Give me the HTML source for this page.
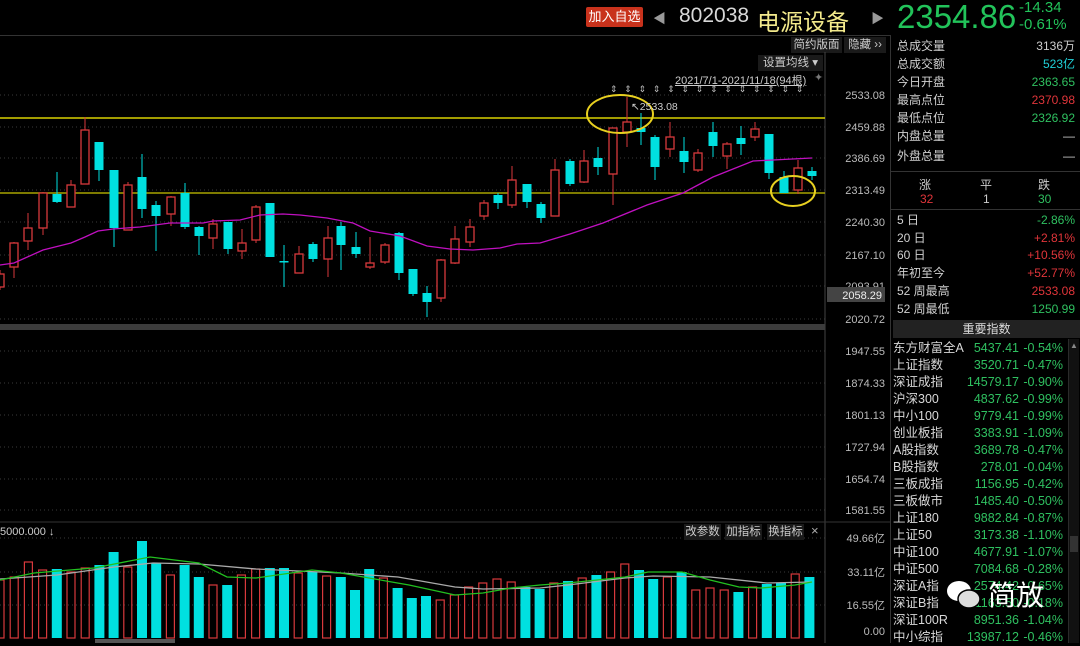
<!DOCTYPE html>
<html><head><meta charset="utf-8"><style>
*{margin:0;padding:0;box-sizing:border-box}
body{width:1080px;height:643px;background:#000;overflow:hidden;position:relative;font-family:"Liberation Sans","Noto Sans CJK SC",sans-serif;color:#ccc;font-size:12px}
.a{position:absolute;white-space:nowrap}
.r{text-align:right}
.row{position:absolute;left:897px;width:178px;height:17px;line-height:17px}
.row .l{position:absolute;left:0;color:#d0d0d0}
.row .v{position:absolute;right:0}
.ix{position:absolute;left:893px;width:170px;height:17px;line-height:17px;font-size:12.5px}
.ix .l{position:absolute;left:0;color:#d8d8d8}
.ix .v{position:absolute;right:44px;color:#2fc060}
.ix .p{position:absolute;right:0;color:#2fc060}
.g{color:#2fc060}.rd{color:#e0353a}.cy{color:#20d0d8}
.btn{position:absolute;background:#1a1a1a;color:#ccc;font-size:11.5px;line-height:16px;text-align:center}
</style></head><body>
<!-- header -->
<div class="a" style="left:586px;top:7px;width:57px;height:20px;background:#c8321c;color:#fff;font-size:13px;line-height:20px;text-align:center;border-radius:2px">加入自选</div>
<div class="a" style="left:653px;top:8px;color:#999;font-size:13px">◀</div>
<div class="a" style="left:679px;top:4px;color:#d8d8d8;font-size:21px">802038</div>
<div class="a" style="left:757px;top:3px;color:#f3ea8c;font-size:23px">电源设备</div>
<div class="a" style="left:871px;top:8px;color:#999;font-size:13px">▶</div>
<div class="a" style="left:897px;top:-2px;color:#22c35a;font-size:33px">2354.86</div>
<div class="a" style="left:1019px;top:-1px;color:#22c35a;font-size:15px">-14.34</div>
<div class="a" style="left:1019px;top:16px;color:#22c35a;font-size:15px">-0.61%</div>
<div class="a" style="left:0;top:35px;width:890px;height:1px;background:#333"></div>
<div class="btn" style="left:791px;top:37px;width:51px">简约版面</div>
<div class="btn" style="left:844px;top:37px;width:42px">隐藏 ››</div>
<div class="btn" style="left:758px;top:55px;width:65px">设置均线 ▾</div>
<div class="a" style="left:675px;top:72px;font-size:11px;color:#ccc;text-decoration:underline">2021/7/1-2021/11/18(94根)</div>
<div class="a" style="left:814px;top:71px;font-size:11px;color:#777">✦</div>
<div class="a" style="left:890px;top:35px;width:1px;height:608px;background:#333"></div>

<svg class="a" style="left:0;top:0" width="890" height="643" id="ch">
<g stroke="#3a3a3a" stroke-dasharray="1,3">
<line x1="0" x2="825" y1="95" y2="95"/><line x1="0" x2="825" y1="127" y2="127"/><line x1="0" x2="825" y1="158" y2="158"/><line x1="0" x2="825" y1="190" y2="190"/><line x1="0" x2="825" y1="222" y2="222"/><line x1="0" x2="825" y1="255" y2="255"/><line x1="0" x2="825" y1="286" y2="286"/><line x1="0" x2="825" y1="319" y2="319"/><line x1="0" x2="825" y1="351" y2="351"/><line x1="0" x2="825" y1="383" y2="383"/><line x1="0" x2="825" y1="415" y2="415"/><line x1="0" x2="825" y1="447" y2="447"/><line x1="0" x2="825" y1="479" y2="479"/><line x1="0" x2="825" y1="510" y2="510"/>
<line x1="0" x2="825" y1="538" y2="538"/><line x1="0" x2="825" y1="572" y2="572"/><line x1="0" x2="825" y1="605" y2="605"/>
</g>
<line x1="825" x2="825" y1="52" y2="643" stroke="#444"/>
<line x1="0" x2="890" y1="522" y2="522" stroke="#333"/>
<rect x="0" y="324" width="825" height="6" fill="#3c3c3c"/>
<line x1="0" x2="825" y1="118" y2="118" stroke="#d8d000" stroke-width="1.5"/>
<line x1="0" x2="825" y1="193" y2="193" stroke="#a8a400" stroke-width="1.5"/>
<g id="cand"></g>
<polyline fill="none" stroke="#c010c0" stroke-width="1.3" points="0,265 14,263 43,250 71,243 85,237 98,231 113,229 140,227 170,223 203,223 213,221 240,220 260,215 283,214 300,215 327,218 353,223 370,231 400,236 427,246 450,249 473,250 500,248 517,244 540,243 570,234 603,223 647,205 683,193 713,177 753,161 773,160 812,158"/>
<ellipse cx="620" cy="114" rx="33" ry="19" fill="none" stroke="#e8d020" stroke-width="2"/>
<ellipse cx="793" cy="191" rx="22" ry="15" fill="none" stroke="#e8d020" stroke-width="2"/>
<text x="631" y="110" fill="#ccc" font-size="10.5" font-family="Liberation Sans">↖2533.08</text>
<g id="mk" fill="#bbb" font-size="9" font-family="Liberation Sans"></g>
<g id="vol"></g>
<polyline fill="none" stroke="#aaa" stroke-width="1.3" points="0,579 57,575 114,567 153,563 199,564 256,569 341,573 398,577 455,587 483,589 540,588 568,585 625,578 653,576 710,577 767,583 812,582"/>
<polyline fill="none" stroke="#22c020" stroke-width="1.3" points="0,580 34,573 94,568 150,557 199,563 227,577 256,578 312,570 341,573 369,578 409,585 455,595 483,593 511,588 540,585 568,583 597,580 625,577 648,572 682,572 710,580 739,587 761,588 795,585 812,582"/>
<rect x="95" y="639" width="80" height="4" fill="#555"/>
<g fill="#bbb" font-size="11" font-family="Liberation Sans" text-anchor="end">
<text x="885" y="99">2533.08</text><text x="885" y="131">2459.88</text><text x="885" y="162">2386.69</text><text x="885" y="194">2313.49</text><text x="885" y="226">2240.30</text><text x="885" y="259">2167.10</text><text x="885" y="290">2093.91</text><text x="885" y="323">2020.72</text><text x="885" y="355">1947.55</text><text x="885" y="387">1874.33</text><text x="885" y="419">1801.13</text><text x="885" y="451">1727.94</text><text x="885" y="483">1654.74</text><text x="885" y="514">1581.55</text>
<text x="885" y="542">49.66亿</text><text x="885" y="576">33.11亿</text><text x="885" y="609">16.55亿</text><text x="885" y="635">0.00</text>
</g>
<rect x="827" y="287" width="58" height="15" fill="#444"/>
<text x="882" y="299" fill="#eee" font-size="11" text-anchor="end" font-family="Liberation Sans">2058.29</text>
<text x="0" y="535" fill="#ccc" font-size="11" font-family="Liberation Sans">5000.000 ↓</text>
</svg>
<div class="btn" style="left:684px;top:524px;width:37px">改参数</div>
<div class="btn" style="left:725px;top:524px;width:37px">加指标</div>
<div class="btn" style="left:767px;top:524px;width:37px">换指标</div>
<div class="a" style="left:811px;top:523px;color:#aaa;font-size:13px">×</div>

<!-- right panel -->
<div class="row" style="top:38px"><span class="l">总成交量</span><span class="v" style="color:#ccc">3136万</span></div>
<div class="row" style="top:56px"><span class="l">总成交额</span><span class="v cy">523亿</span></div>
<div class="row" style="top:74px"><span class="l">今日开盘</span><span class="v g">2363.65</span></div>
<div class="row" style="top:92px"><span class="l">最高点位</span><span class="v rd">2370.98</span></div>
<div class="row" style="top:110px"><span class="l">最低点位</span><span class="v g">2326.92</span></div>
<div class="row" style="top:128px"><span class="l">内盘总量</span><span class="v">—</span></div>
<div class="row" style="top:148px"><span class="l">外盘总量</span><span class="v">—</span></div>
<div class="a" style="left:891px;top:171px;width:189px;height:1px;background:#333"></div>
<div class="a" style="left:919px;top:176px;color:#ccc">涨</div><div class="a" style="left:980px;top:176px;color:#ccc">平</div><div class="a" style="left:1038px;top:176px;color:#ccc">跌</div>
<div class="a rd" style="left:920px;top:192px">32</div><div class="a" style="left:983px;top:192px">1</div><div class="a g" style="left:1038px;top:192px">30</div>
<div class="a" style="left:891px;top:209px;width:189px;height:1px;background:#333"></div>
<div class="row" style="top:212px"><span class="l">5 日</span><span class="v g">-2.86%</span></div>
<div class="row" style="top:230px"><span class="l">20 日</span><span class="v rd">+2.81%</span></div>
<div class="row" style="top:247px"><span class="l">60 日</span><span class="v rd">+10.56%</span></div>
<div class="row" style="top:265px"><span class="l">年初至今</span><span class="v rd">+52.77%</span></div>
<div class="row" style="top:283px"><span class="l">52 周最高</span><span class="v rd">2533.08</span></div>
<div class="row" style="top:301px"><span class="l">52 周最低</span><span class="v g">1250.99</span></div>
<div class="a" style="left:893px;top:320px;width:187px;height:18px;background:#222;color:#ddd;text-align:center;line-height:18px">重要指数</div>
<div class="a" style="left:1068px;top:339px;width:11px;height:304px;background:#111;border-left:1px solid #2a2a2a"></div>
<div class="a" style="left:1070px;top:341px;color:#888;font-size:8px">▲</div>
<div class="a" style="left:1070px;top:536px;width:8px;height:16px;background:#333"></div>
<div id="idx"></div>
<svg class="a" style="left:944px;top:577px" width="40" height="36"><ellipse cx="15" cy="14" rx="12" ry="10" fill="#fff"/><ellipse cx="25" cy="22" rx="11" ry="9" fill="#ddd" stroke="#000" stroke-width="1.5"/></svg>
<div class="a" style="left:988px;top:574px;color:#fff;font-size:28px">简放</div>
<script>
var I=[["东方财富全A","5437.41","-0.54%"],["上证指数","3520.71","-0.47%"],["深证成指","14579.17","-0.90%"],["沪深300","4837.62","-0.99%"],["中小100","9779.41","-0.99%"],["创业板指","3383.91","-1.09%"],["A股指数","3689.78","-0.47%"],["B股指数","278.01","-0.04%"],["三板成指","1156.95","-0.42%"],["三板做市","1485.40","-0.50%"],["上证180","9882.84","-0.87%"],["上证50","3173.38","-1.10%"],["中证100","4677.91","-1.07%"],["中证500","7084.68","-0.28%"],["深证A指","2574.42","-0.65%"],["深证B指","1163.50","-0.18%"],["深证100R","8951.36","-1.04%"],["中小综指","13987.12","-0.46%"]];
var h="";I.forEach(function(r,i){h+='<div class="ix" style="top:'+(340+i*17)+'px"><span class="l">'+r[0]+'</span><span class="v">'+r[1]+'</span><span class="p">'+r[2]+'</span></div>'});
document.getElementById("idx").innerHTML=h;
// candles: x, bodyTop, bodyBot, wickTop, wickBot, up(1 red)
var C=[[0,274,287,270,290,1],[14,243,267,242,278,1],[28,228,241,213,250,1],[43,193,228,192,235,1],[57,194,202,172,203,0],[71,185,207,180,207,1],[85,130,184,117,184,1],[99,142,170,142,181,0],[114,170,228,170,247,0],[128,185,230,182,230,1],[142,177,209,154,218,0],[156,205,216,201,251,0],[171,197,214,196,226,1],[185,193,227,183,229,0],[199,227,236,226,255,0],[213,224,238,219,249,1],[228,222,249,222,254,0],[242,243,251,229,259,1],[256,207,240,205,243,1],[270,203,257,203,257,0],[284,261,262,245,287,0],[299,254,273,246,273,1],[313,244,259,242,262,0],[328,238,259,226,277,1],[341,226,245,222,270,0],[356,247,254,232,258,0],[370,263,267,237,269,1],[385,245,262,243,264,1],[399,233,273,232,280,0],[413,269,294,269,296,0],[427,293,302,286,317,0],[441,260,298,259,302,1],[455,239,263,226,264,1],[470,227,242,219,247,1],[484,203,216,200,220,1],[498,195,203,193,209,0],[512,180,205,166,208,1],[527,184,202,184,208,0],[541,204,218,202,223,0],[555,170,216,159,216,1],[570,161,184,159,186,0],[584,161,182,150,183,1],[598,158,167,147,175,0],[613,128,174,128,205,1],[627,122,132,97,147,1],[641,128,132,113,145,0],[655,137,167,135,180,0],[670,137,149,122,157,1],[684,151,162,137,173,0],[698,153,170,149,172,1],[713,132,146,122,157,0],[727,144,156,142,169,1],[741,138,144,126,155,0],[755,129,137,122,141,1],[769,134,173,134,179,0],[784,177,193,171,193,0],[798,168,190,160,194,1],[812,171,176,167,180,0]];
var s="",R="#d8393c",G="#00e0e0";
C.forEach(function(c){var col=c[5]?R:G;s+='<line x1="'+c[0]+'" x2="'+c[0]+'" y1="'+c[3]+'" y2="'+c[4]+'" stroke="'+col+'" stroke-width="1"/>';
var hh=Math.max(c[2]-c[1],1.5);
if(c[5])s+='<rect x="'+(c[0]-4)+'" y="'+c[1]+'" width="8" height="'+hh+'" fill="#000" stroke="'+R+'" stroke-width="1.3"/>';
else s+='<rect x="'+(c[0]-4.5)+'" y="'+c[1]+'" width="9" height="'+hh+'" fill="'+G+'"/>';});
document.getElementById("cand").innerHTML=s;
var V=[[580,1],[577,1],[562,1],[570,1],[569,0],[572,1],[568,1],[565,0],[552,0],[567,1],[541,0],[563,0],[575,1],[565,0],[577,0],[585,1],[585,0],[575,1],[569,1],[568,0],[568,0],[573,1],[572,0],[576,1],[577,0],[590,0],[569,0],[578,1],[588,0],[598,0],[596,0],[600,1],[595,1],[587,1],[583,1],[579,1],[582,1],[587,0],[589,0],[583,1],[581,0],[578,1],[575,0],[572,1],[564,1],[570,0],[579,0],[577,1],[572,0],[590,1],[588,1],[590,1],[592,0],[587,1],[584,0],[583,0],[574,1],[577,0]];
s="";V.forEach(function(v,i){var x=i*14.2;
if(v[1])s+='<rect x="'+(x-4)+'" y="'+v[0]+'" width="8" height="'+(638-v[0])+'" fill="none" stroke="'+R+'" stroke-width="1.2"/>';
else s+='<rect x="'+(x-5)+'" y="'+v[0]+'" width="10" height="'+(638-v[0])+'" fill="'+G+'"/>';});
document.getElementById("vol").innerHTML=s;
s="";for(var x=613;x<=813;x+=14.3)s+='<text x="'+(x-3)+'" y="92">⇕</text>';
document.getElementById("mk").innerHTML=s;
</script>
</body></html>
